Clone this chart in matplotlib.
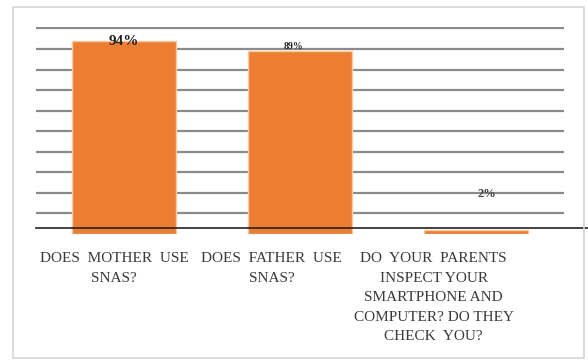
import matplotlib
matplotlib.use("Agg")
import matplotlib.pyplot as plt
from matplotlib.patches import Rectangle

categories = ["DOES  MOTHER  USE\nSNAS?",
              "DOES  FATHER  USE\nSNAS?",
              "DO  YOUR  PARENTS\nINSPECT YOUR\nSMARTPHONE AND\nCOMPUTER? DO THEY\nCHECK  YOU?"]
values = [94, 89, 2]
value_labels = ["94%", "89%", "2%"]
grid_values = [10, 20, 30, 40, 50, 60, 70, 80, 90, 100]

fig = plt.figure(figsize=(5.88, 3.6), dpi=100)
fig.patch.set_facecolor("white")

# outer frame
fig.add_artist(Rectangle((13/588, 1-358/360), (584-13)/588, (358-7)/360,
                         transform=fig.transFigure, fill=False,
                         edgecolor="#d4d4d4", linewidth=1.2))

ax = fig.add_axes([36/588, 1-234/360, (564-36)/588, (234-27)/360])
ax.set_xlim(-0.5, 2.5)
ax.set_ylim(0, 100.7)
for s in ax.spines.values():
    s.set_visible(False)
ax.set_yticks([])
ax.tick_params(axis="x", length=0)

for g in grid_values:
    ax.axhline(g, color="#8a8a8a", linewidth=1.6, zorder=1)

x = list(range(len(values)))
ax.bar(x, values, width=0.59, color="#ED7D31", edgecolor="#f6c9a3",
       linewidth=1.0, zorder=2)

# baseline
ax.axhline(3, xmin=0, xmax=(588-36)/528, color="#222222", linewidth=1.2,
           zorder=3, clip_on=False)

serif = ["Liberation Serif", "DejaVu Serif"]
ax.annotate(value_labels[0], (x[0], values[0]), xytext=(0, -0.5), textcoords="offset points",
            ha="center", va="center", fontsize=11, fontweight="bold",
            family=serif, color="#222222", zorder=4)
ax.annotate(value_labels[1], (x[1], values[1]), xytext=(-5, 3), textcoords="offset points",
            ha="center", va="center", fontsize=7, fontweight="bold",
            family=serif, color="#222222", zorder=4)
ax.annotate(value_labels[2], (x[2], values[2]), xytext=(8, 26), textcoords="offset points",
            ha="center", va="center", fontsize=9, fontweight="bold",
            family=serif, color="#444444", zorder=4)

label_pos = [-0.057, 0.84, 1.76]
ax.set_xticks(label_pos)
ax.set_xticklabels(categories, family=serif, fontsize=11, color="#3a3a3a",
                   linespacing=1.65, va="top", ha="center", multialignment="center")
ax.tick_params(axis="x", pad=13)

fig.savefig("out.png", dpi=100)
